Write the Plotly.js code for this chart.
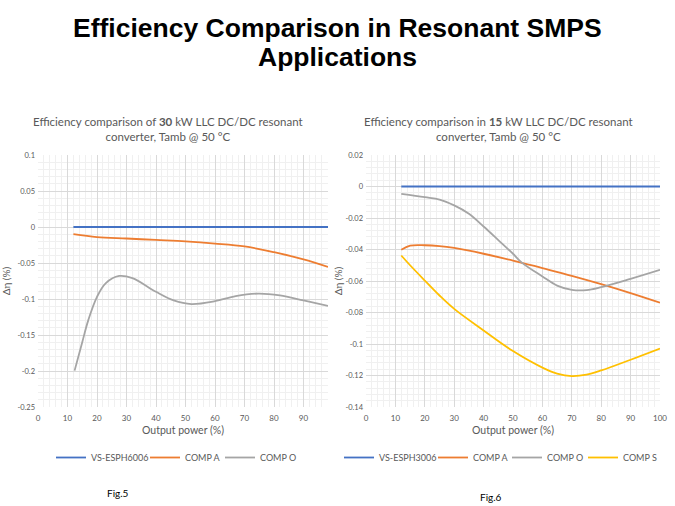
<!DOCTYPE html>
<html>
<head>
<meta charset="utf-8">
<script src="https://cdn.plot.ly/plotly-3.0.1.min.js"></script>
<style>html,body{margin:0;padding:0;background:#fff;}#chart{width:675px;height:506px;}</style>
</head>
<body>
<div id="chart"></div>
<script>
// ---- Fig.5 data (30 kW) ----
const xBase5 = [12, 98.3];
const yBase5 = [0, 0];
const xA5 = [12, 20, 30, 40, 50, 60, 70, 80, 90, 98.3];
const yA5 = [-0.010, -0.014, -0.016, -0.018, -0.020, -0.023, -0.027, -0.035, -0.045, -0.0555];
const xO5 = [12.4, 15, 17, 20, 23, 27.5, 32, 40, 46, 52, 60, 67, 74.7, 82, 90, 98.3];
const yO5 = [-0.1995, -0.16, -0.13, -0.097, -0.078, -0.068, -0.071, -0.090, -0.102, -0.107, -0.103, -0.096, -0.0925, -0.095, -0.102, -0.1097];
const yTicks5 = [0.1, 0.05, 0, -0.05, -0.1, -0.15, -0.2, -0.25];
const yTickText5 = ["0.1", "0.05", "0", "-0.05", "-0.1", "-0.15", "-0.2", "-0.25"];
const xTicks5 = [0, 10, 20, 30, 40, 50, 60, 70, 80, 90];
const xTickText5 = ["0", "10", "20", "30", "40", "50", "60", "70", "80", "90"];

// ---- Fig.6 data (15 kW) ----
const xBase6 = [12, 100];
const yBase6 = [0, 0];
const xA6 = [12, 15, 20, 25, 30, 40, 50, 60, 70, 80, 90, 100];
const yA6 = [-0.0402, -0.0376, -0.0373, -0.0378, -0.039, -0.0427, -0.047, -0.0518, -0.0567, -0.062, -0.0677, -0.0738];
const xO6 = [12, 20, 25, 30, 35, 40, 45, 50, 53, 60, 65, 70, 75, 80, 90, 100];
const yO6 = [-0.0047, -0.0068, -0.0083, -0.012, -0.0173, -0.0254, -0.034, -0.0427, -0.0483, -0.0571, -0.0629, -0.0656, -0.0658, -0.0639, -0.0586, -0.0529];
const xS6 = [12, 15, 20, 25, 30, 40, 50, 60, 65, 70, 75, 80, 90, 100];
const yS6 = [-0.0438, -0.050, -0.0597, -0.0692, -0.0777, -0.0914, -0.1045, -0.115, -0.1188, -0.1204, -0.1195, -0.1168, -0.110, -0.1029];
const yTicks6 = [0.02, 0, -0.02, -0.04, -0.06, -0.08, -0.1, -0.12, -0.14];
const yTickText6 = ["0.02", "0", "-0.02", "-0.04", "-0.06", "-0.08", "-0.1", "-0.12", "-0.14"];
const xTicks6 = [0, 10, 20, 30, 40, 50, 60, 70, 80, 90, 100];
const xTickText6 = ["0", "10", "20", "30", "40", "50", "60", "70", "80", "90", "100"];

const names5 = ["VS-ESPH6006", "COMP A", "COMP O"];
const names6 = ["VS-ESPH3006", "COMP A", "COMP O", "COMP S"];

const BLUE = "#4472C4", ORANGE = "#ED7D31", GRAY = "#A5A5A5", YELLOW = "#FFC000";
const FONT = "Lato, 'Open Sans', sans-serif";
const TXT = "#595959";

function tr(x, y, name, color, xa, ya, lg) {
  return {x: x, y: y, name: name, type: "scatter", mode: "lines",
    line: {color: color, width: 1.8, shape: "spline", smoothing: 1},
    xaxis: xa, yaxis: ya, legend: lg, hoverinfo: "skip"};
}

const data = [
  tr(xBase5, yBase5, names5[0], BLUE, "x", "y", "legend"),
  tr(xA5, yA5, names5[1], ORANGE, "x", "y", "legend2"),
  tr(xO5, yO5, names5[2], GRAY, "x", "y", "legend3"),
  tr(xBase6, yBase6, names6[0], BLUE, "x2", "y2", "legend4"),
  tr(xA6, yA6, names6[1], ORANGE, "x2", "y2", "legend5"),
  tr(xO6, yO6, names6[2], GRAY, "x2", "y2", "legend6"),
  tr(xS6, yS6, names6[3], YELLOW, "x2", "y2", "legend7")
];

const W = 675, H = 506;
const px = v => v / W;
const py = v => 1 - v / H;

function xax(dom, range, tv, tt) {
  return {domain: dom, range: range, tickvals: tv, ticktext: tt, tickmode: "array",
    showgrid: true, gridcolor: "#d9d9d9", gridwidth: 1, zeroline: false, showline: false,
    ticks: "", ticklabelstandoff: 5, tickfont: {family: FONT, size: 8, color: TXT},
    minor: {dtick: 2, tick0: 0, showgrid: true, gridcolor: "#f0f0f0", gridwidth: 1},
    title: {text: "Output power (%)", font: {family: FONT, size: 10.5, color: TXT}, standoff: 4},
    fixedrange: true, automargin: false};
}
function yax(dom, range, tv, tt, mdt, anchor, so) {
  return {domain: dom, range: range, tickvals: tv, ticktext: tt, tickmode: "array", anchor: anchor,
    showgrid: true, gridcolor: "#d9d9d9", gridwidth: 1, zeroline: false, showline: false,
    ticks: "", ticklabelstandoff: 2, tickfont: {family: FONT, size: 7.5, color: TXT},
    minor: {dtick: mdt, tick0: 0, showgrid: true, gridcolor: "#f0f0f0", gridwidth: 1},
    title: {text: "Δη (%)", font: {family: FONT, size: 10, color: TXT}, standoff: so},
    fixedrange: true, automargin: false};
}
function lg(sampleStartPx) {
  return {orientation: "h", x: px(sampleStartPx - 5), y: py(443), xanchor: "left", yanchor: "top",
    font: {family: FONT, size: 9, color: TXT}, bgcolor: "rgba(0,0,0,0)", borderwidth: 0};
}

const yDom = [py(407), py(155)];
const layout = {
  width: W, height: H,
  margin: {l: 0, r: 0, t: 0, b: 0},
  paper_bgcolor: "#fff", plot_bgcolor: "#fff",
  showlegend: true,
  xaxis: xax([px(38), px(328)], [0, 98.3], xTicks5, xTickText5),
  yaxis: yax(yDom, [-0.25, 0.1], yTicks5, yTickText5, 0.01, "x", 6),
  xaxis2: Object.assign(xax([px(366), px(660)], [0, 100], xTicks6, xTickText6), {anchor: "y2"}),
  yaxis2: yax(yDom, [-0.14, 0.02], yTicks6, yTickText6, 0.004, "x2", 0),
  legend: lg(56), legend2: lg(150), legend3: lg(225),
  legend4: lg(344), legend5: lg(438), legend6: lg(512), legend7: lg(588),
  annotations: [
    {text: "<b>Efficiency Comparison in Resonant SMPS</b>", x: 0.5, y: py(28),
      xref: "paper", yref: "paper", showarrow: false, xanchor: "center", yanchor: "middle",
      font: {family: "'Liberation Sans', Arial, sans-serif", size: 26.5, color: "#000"}},
    {text: "<b>Applications</b>", x: 0.5, y: py(57),
      xref: "paper", yref: "paper", showarrow: false, xanchor: "center", yanchor: "middle",
      font: {family: "'Liberation Sans', Arial, sans-serif", size: 26.5, color: "#000"}},
    {text: "Efficiency comparison of <b>30</b> kW LLC DC/DC resonant<br>converter, Tamb @ 50 °C", x: px(168), y: py(129),
      xref: "paper", yref: "paper", showarrow: false, xanchor: "center", yanchor: "middle",
      font: {family: FONT, size: 11.5, color: TXT}},
    {text: "Efficiency comparison in <b>15</b> kW LLC DC/DC resonant<br>converter, Tamb @ 50 °C", x: px(498), y: py(129),
      xref: "paper", yref: "paper", showarrow: false, xanchor: "center", yanchor: "middle",
      font: {family: FONT, size: 11.5, color: TXT}},
    {text: "Fig.5", x: px(118), y: py(493), xref: "paper", yref: "paper", showarrow: false,
      xanchor: "center", yanchor: "middle", font: {family: FONT, size: 10, color: "#000"}},
    {text: "Fig.6", x: px(491), y: py(497), xref: "paper", yref: "paper", showarrow: false,
      xanchor: "center", yanchor: "middle", font: {family: FONT, size: 10, color: "#000"}}
  ]
};

Plotly.newPlot("chart", data, layout, {staticPlot: true, displayModeBar: false});
</script>
</body>
</html>
